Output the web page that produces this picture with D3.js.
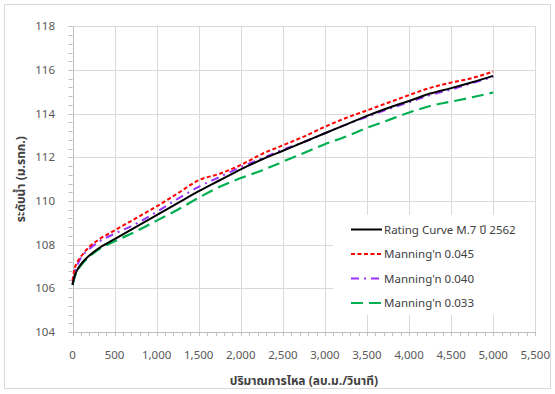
<!DOCTYPE html>
<html>
<head>
<meta charset="utf-8">
<script src="https://cdn.jsdelivr.net/npm/d3@7"></script>
<style>
  html, body { margin: 0; padding: 0; background: #fff; }
  svg { display: block; font-family: "Segoe UI", Tahoma, "Noto Sans Thai", "Noto Sans", "DejaVu Sans", sans-serif; }
</style>
</head>
<body>
<svg id="chart" width="555" height="394"></svg>
<script>
// Discharge (cms) at which each water level is given
const flows = [0, 25, 50, 100, 200, 300, 500, 750, 1000, 1250, 1500, 1750, 2000, 2250,
               2500, 2750, 3000, 3250, 3500, 3750, 4000, 4250, 4500, 4750, 5000];

// Water levels (m. MSL) per series
const ratingCurve = [106.15, 106.55, 106.8, 107.1, 107.5, 107.8, 108.25, 108.8, 109.35, 109.9,
                     110.45, 110.95, 111.45, 111.9, 112.3, 112.7, 113.1, 113.5, 113.9, 114.26,
                     114.58, 114.92, 115.17, 115.44, 115.73];
const manning045  = [106.35, 106.9, 107.15, 107.45, 107.9, 108.2, 108.65, 109.2, 109.75, 110.35,
                     110.95, 111.25, 111.65, 112.15, 112.55, 112.95, 113.4, 113.8, 114.15, 114.5,
                     114.85, 115.18, 115.42, 115.63, 115.93];
const manning040  = [106.2, 106.75, 107.0, 107.4, 107.8, 108.1, 108.5, 108.95, 109.5, 110.1,
                     110.65, 111.1, 111.55, 111.95, 112.35, 112.7, 113.1, 113.5, 113.85, 114.2,
                     114.52, 114.85, 115.1, 115.4, 115.68];
const manning033  = [106.15, 106.5, 106.75, 107.05, 107.45, 107.75, 108.15, 108.6, 109.1, 109.6,
                     110.15, 110.65, 111.05, 111.4, 111.8, 112.2, 112.6, 112.95, 113.35, 113.7,
                     114.05, 114.35, 114.55, 114.75, 114.97];

const seriesNames = ["Rating Curve M.7 ปี 2562", "Manning'n 0.045", "Manning'n 0.040", "Manning'n 0.033"];
const xTicks = [0, 500, 1000, 1500, 2000, 2500, 3000, 3500, 4000, 4500, 5000, 5500];
const yTicks = [104, 106, 108, 110, 112, 114, 116, 118];
const xTitle = "ปริมาณการไหล (ลบ.ม./วินาที)";
const yTitle = "ระดับน้ำ (ม.รทก.)";

const styles = [
  { color: "#000000", width: 2,   dash: null },
  { color: "#FF0000", width: 2,   dash: "4,2.5" },
  { color: "#9933FF", width: 2,   dash: "8,5,2,5" },
  { color: "#00B050", width: 2.2, dash: "12,6" }
];
const seriesValues = [ratingCurve, manning045, manning040, manning033];

const svg = d3.select("#chart");
const plot = { left: 72.5, right: 535.3, top: 26.3, bottom: 332 };

// Outer chart border
svg.append("rect")
  .attr("x", 4.5).attr("y", 4.5).attr("width", 546).attr("height", 384)
  .attr("fill", "#fff").attr("stroke", "#d9d9d9").attr("stroke-width", 1);

const x = d3.scaleLinear().domain([0, 5500]).range([plot.left, plot.right]);
const y = d3.scaleLinear().domain([104, 118]).range([plot.bottom, plot.top]);

// Gridlines
const grid = svg.append("g").attr("stroke", "#d9d9d9").attr("stroke-width", 1);
grid.selectAll("line.v").data(xTicks.slice(1)).join("line")
  .attr("x1", d => Math.round(x(d)) + 0.5).attr("x2", d => Math.round(x(d)) + 0.5)
  .attr("y1", plot.top).attr("y2", plot.bottom);
grid.selectAll("line.h").data(yTicks.slice(1)).join("line")
  .attr("x1", plot.left).attr("x2", plot.right)
  .attr("y1", d => Math.round(y(d)) + 0.5).attr("y2", d => Math.round(y(d)) + 0.5);

// Minor tick marks along axes
const axisColor = "#bfbfbf";
const xMinor = d3.range(0, 5501, 100);
const yMinor = d3.range(104, 118.001, 0.4);
const ticks = svg.append("g").attr("stroke", axisColor).attr("stroke-width", 1);
ticks.selectAll("line.xm").data(xMinor).join("line")
  .attr("x1", d => Math.round(x(d)) + 0.5).attr("x2", d => Math.round(x(d)) + 0.5)
  .attr("y1", plot.bottom).attr("y2", plot.bottom + 4);
ticks.selectAll("line.ym").data(yMinor).join("line")
  .attr("x1", plot.left - 4).attr("x2", plot.left)
  .attr("y1", d => Math.round(y(d)) + 0.5).attr("y2", d => Math.round(y(d)) + 0.5);

// Axis lines
svg.append("line").attr("x1", plot.left).attr("x2", plot.right)
  .attr("y1", Math.round(plot.bottom) + 0.5).attr("y2", Math.round(plot.bottom) + 0.5)
  .attr("stroke", axisColor);
svg.append("line").attr("x1", Math.round(plot.left) + 0.5).attr("x2", Math.round(plot.left) + 0.5)
  .attr("y1", plot.top).attr("y2", plot.bottom)
  .attr("stroke", axisColor);

// Tick labels
const fmt = d3.format(",");
svg.append("g").selectAll("text").data(xTicks).join("text")
  .attr("x", d => x(d)).attr("y", 359)
  .attr("text-anchor", "middle").attr("font-size", 11.5).attr("fill", "#595959")
  .text(d => fmt(d));
svg.append("g").selectAll("text").data(yTicks).join("text")
  .attr("x", 55).attr("y", d => y(d) + 4)
  .attr("text-anchor", "end").attr("font-size", 11.5).attr("fill", "#595959")
  .text(d => d);

// Axis titles
svg.append("text").attr("x", (plot.left + plot.right) / 2).attr("y", 385)
  .attr("text-anchor", "middle").attr("font-size", 12).attr("font-weight", "bold")
  .attr("fill", "#404040").text(xTitle);
svg.append("text").attr("transform", `translate(25, ${(plot.top + plot.bottom) / 2}) rotate(-90)`)
  .attr("text-anchor", "middle").attr("font-size", 12).attr("font-weight", "bold")
  .attr("fill", "#404040").text(yTitle);

// Series lines
const line = d3.line()
  .x(d => x(d[0])).y(d => y(d[1]))
  .curve(d3.curveMonotoneX);
const plotOrder = [3, 2, 1, 0];
svg.append("g").selectAll("path").data(plotOrder).join("path")
  .attr("d", i => line(flows.map((q, k) => [q, seriesValues[i][k]])))
  .attr("fill", "none")
  .attr("stroke", i => styles[i].color)
  .attr("stroke-width", i => styles[i].width)
  .attr("stroke-dasharray", i => styles[i].dash)
  .attr("stroke-linejoin", "round");

// Legend
const legend = svg.append("g");
legend.append("rect").attr("x", 333).attr("y", 215).attr("width", 202).attr("height", 100)
  .attr("fill", "#fff");
const rowY = [229.5, 254, 278.5, 303];
const rows = legend.selectAll("g.row").data(seriesNames).join("g")
  .attr("transform", (d, i) => `translate(0, ${rowY[i]})`);
rows.append("line").attr("x1", 351).attr("x2", 382).attr("y1", 0).attr("y2", 0)
  .attr("stroke", (d, i) => styles[i].color)
  .attr("stroke-width", (d, i) => styles[i].width)
  .attr("stroke-dasharray", (d, i) => styles[i].dash);
rows.append("text").attr("x", 384).attr("y", 4)
  .attr("font-size", 11.5).attr("fill", "#404040")
  .text(d => d);
</script>
</body>
</html>
